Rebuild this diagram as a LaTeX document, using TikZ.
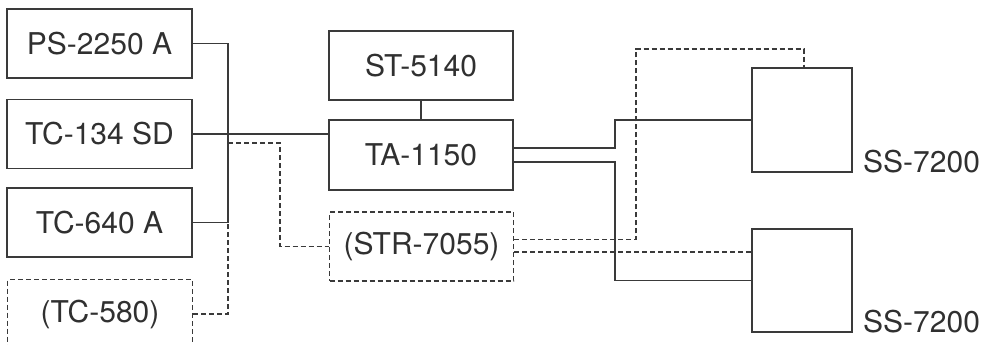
\documentclass[tikz,border=0pt]{standalone}
\usepackage{fontspec}
\setmainfont{TeX Gyre Heros}
\usetikzlibrary{calc}
\definecolor{ink}{HTML}{3A3A3A}
\definecolor{txt}{HTML}{303030}
\tikzset{
  unit/.style={draw=ink, line width=1.1pt, minimum width=185pt, minimum height=69pt, inner sep=0pt, font=\fontsize{30}{32}\selectfont, text=txt},
  optunit/.style={unit, dash pattern=on 5pt off 3pt},
  spk/.style={draw=ink, line width=1.1pt, minimum width=100pt, minimum height=104pt, inner sep=0pt},
  lbl/.style={font=\fontsize{30}{32}\selectfont, text=txt, inner sep=0pt, anchor=base west},
  wire/.style={draw=ink, line width=1.1pt},
  dwire/.style={wire, dash pattern=on 5pt off 3pt}
}
\begin{document}
\begin{tikzpicture}[x=1pt,y=-1pt]
\useasboundingbox (0,0) rectangle (985,345);
\clip (0,0) rectangle (985,345);
% sources
\node[unit] (ps) at (99.5,43.5) {PS-2250 A};
\node[unit] (tc134) at (99.5,134) {TC-134 SD};
\node[unit] (tc640) at (99.5,222.5) {TC-640 A};
\node[optunit] (tc580) at (100,314) {(TC-580)};
% amplifier stack
\node[unit, minimum width=184pt] (st) at (421,65.5) {ST-5140};
\node[unit, minimum width=184pt, minimum height=70pt] (ta) at (421,155) {TA-1150};
\node[optunit, minimum width=184pt] (str) at (421.5,246.5) {(STR-7055)};
% speakers
\node[spk] (ssA) at (802,120) {};
\node[spk, minimum height=103pt] (ssB) at (802,280.5) {};
\node[lbl] (lA) at (863,172) {SS-7200};
\node[lbl] (lB) at (863,332) {SS-7200};
% bus coordinates
\coordinate (bus) at (228,0);
\coordinate (tap) at (228,143);
\coordinate (drop) at (280,143);
\coordinate (rA) at (615,0);
\coordinate (rB) at (636,0);
% source wiring
\draw[wire] (ps.east) -| (tc640.east -| bus) -- (tc640.east);
\draw[wire] (tc134.east) -- (tc134.east -| ta.west);
\draw[dwire] (tc580.east) -| (tc640.east -| bus);
\draw[dwire] (tap) -- (drop) |- (str.west);
\draw[wire] (st.south) -- (ta.north);
% amplifier to speakers
\coordinate (ta1) at ($(ta.east)+(0,-7)$);
\coordinate (ta2) at ($(ta.east)+(0,7)$);
\draw[wire] (ta1) -- (ta1 -| rA) |- (ssA.west);
\draw[wire] (ta2) -- (ta2 -| rA) |- (ssB.west);
\coordinate (str1) at ($(str.east)+(0,-7)$);
\coordinate (str2) at ($(str.east)+(0,5.5)$);
\coordinate (ssAtop) at ($(ssA.north)+(2,0)$);
\draw[dwire] (str1) -- (str1 -| rB) -- (rB |- 0,49) -| (ssAtop);
\draw[dwire] (str2) -- (str2 -| ssB.west);
\end{tikzpicture}
\end{document}
